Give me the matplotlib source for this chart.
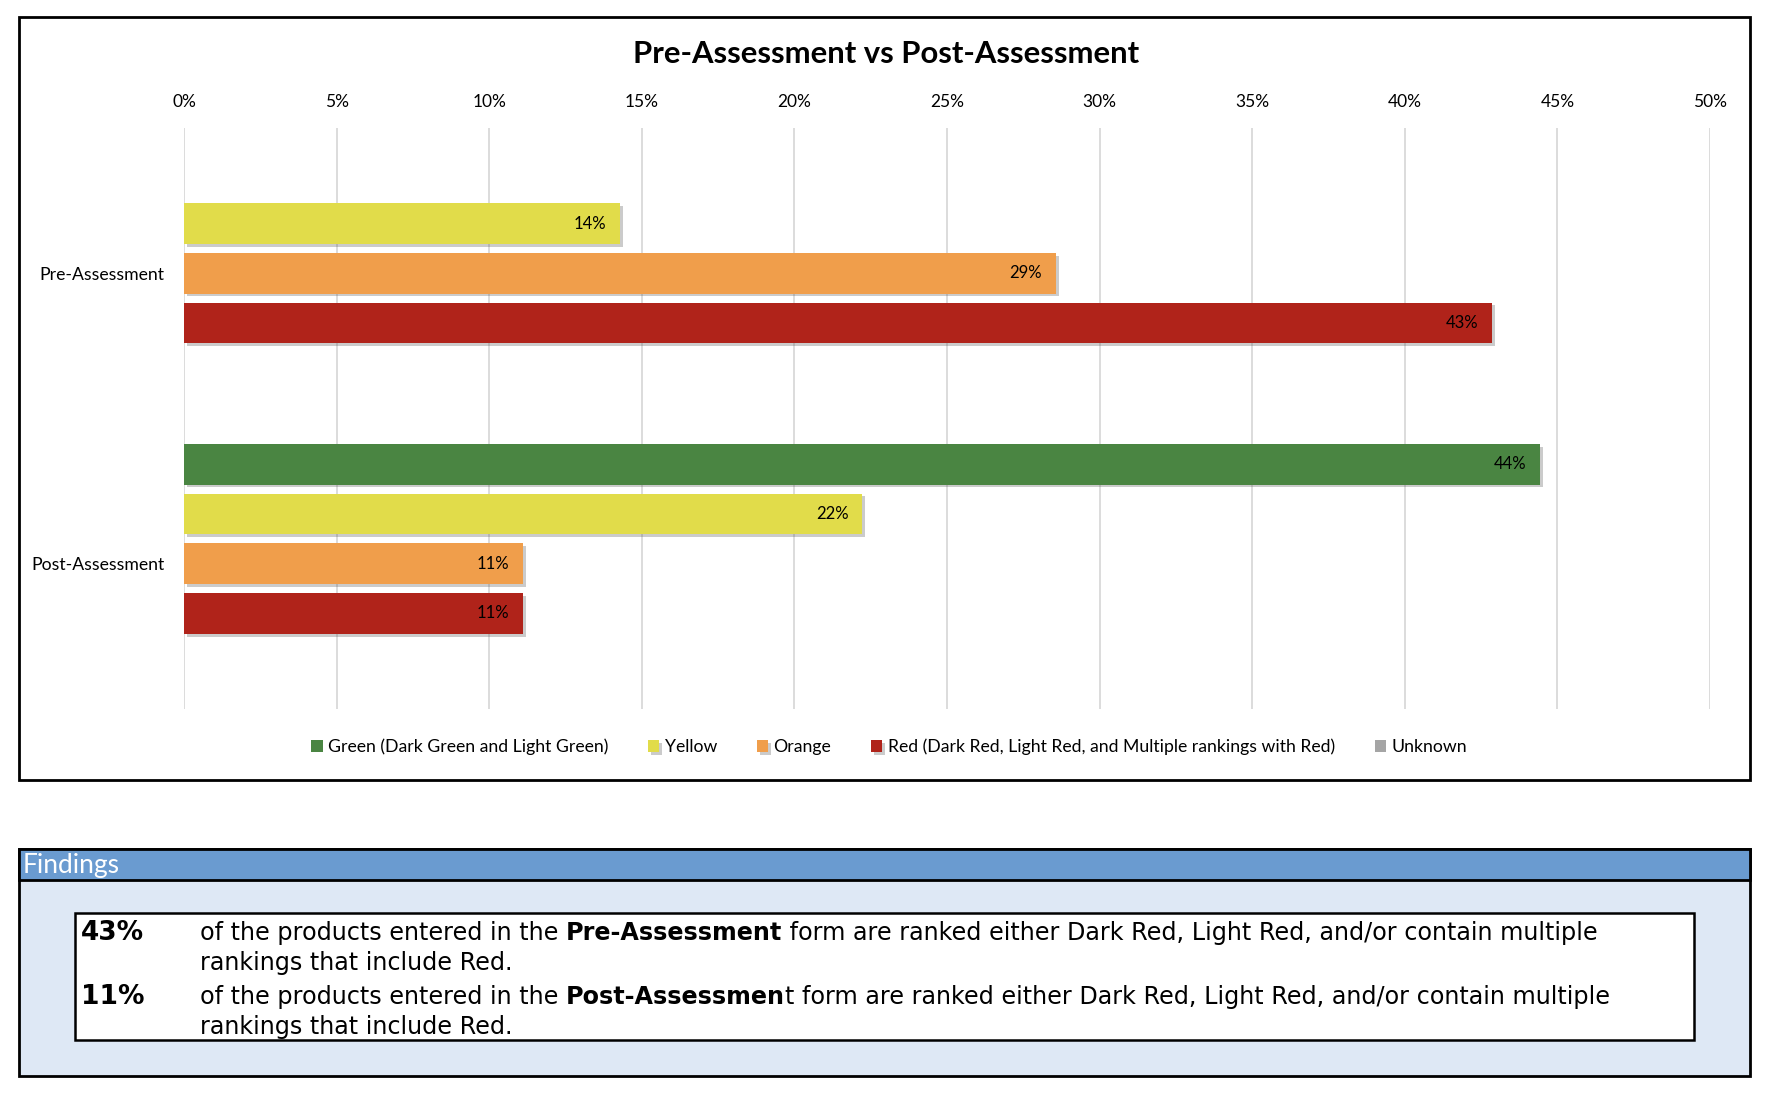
import matplotlib
matplotlib.use("Agg")
import matplotlib.pyplot as plt
import matplotlib.patheffects as pe
from matplotlib.patches import Rectangle
import numpy as np

categories = ["Pre-Assessment", "Post-Assessment"]
series_names = ["Green (Dark Green and Light Green)", "Yellow", "Orange",
                "Red (Dark Red, Light Red, and Multiple rankings with Red)", "Unknown"]
series_colors = ["#4A8542", "#E1DC4A", "#F09E4B", "#B0231A", "#A5A5A5"]
# percentages per series: [Pre, Post]
green = [0.0, 44.44]
yellow = [14.29, 22.22]
orange = [28.57, 11.11]
red = [42.86, 11.11]
unknown = [0.0, 0.0]
series_values = [green, yellow, orange, red, unknown]
xticks = [0, 5, 10, 15, 20, 25, 30, 35, 40, 45, 50]

title = "Pre-Assessment vs Post-Assessment"
findings_header = "Findings"

W, H = 1774, 1098
fig = plt.figure(figsize=(W / 100, H / 100), dpi=100)
CH = "Lato"
BODY = "DejaVu Sans"

def fx(px):
    return px / W

def fy(py):
    return 1 - py / H

# Chart outer box
fig.patches.append(Rectangle((fx(19), fy(780)), fx(1750) - fx(19), fy(17) - fy(780),
                             transform=fig.transFigure, fill=False, edgecolor="black",
                             linewidth=2.0, zorder=0))

ax = fig.add_axes([fx(184), fy(709), fx(1710) - fx(184), fy(128) - fy(709)])
slot = 44 / 257
bh = 36 / 257
ypos = np.arange(len(categories))
shadow = [pe.SimplePatchShadow(offset=(2, -2), alpha=0.3, shadow_rgbFace="#555555"), pe.Normal()]
for j, (name, vals, col) in enumerate(zip(series_names, series_values, series_colors)):
    yy = ypos + (j - 2) * slot
    bars = ax.barh(yy, vals, height=bh, color=col, label=name, zorder=3)
    for b, v in zip(bars, vals):
        if v > 0:
            b.set_path_effects(shadow)
            ax.text(v - 0.45, b.get_y() + b.get_height() / 2, f"{v:.0f}%",
                    ha="right", va="center", fontsize=12, family=CH, color="black", zorder=4)

ax.set_xlim(0, 50)
ax.set_ylim(1.5, -0.5)
ax.set_xticks(xticks)
ax.set_xticklabels([f"{t}%" for t in xticks], family=CH, fontsize=12.5)
ax.xaxis.tick_top()
ax.tick_params(axis="x", length=0, pad=13)
ax.set_yticks(ypos)
ax.set_yticklabels(categories, family=CH, fontsize=12.7)
ax.tick_params(axis="y", length=0, pad=14)
ax.grid(axis="x", color="#D9D9D9", linewidth=1.3, zorder=0)
for s in ax.spines.values():
    s.set_visible(False)

fig.text(fx(886), fy(54), title, ha="center", va="center", fontsize=22.3, fontweight="bold", family=CH)

handles, labels = ax.get_legend_handles_labels()
fig.legend(handles, labels, loc="center", bbox_to_anchor=(fx(889), fy(747)), ncol=5,
           frameon=False, prop={"family": CH, "size": 12.7}, handlelength=0.65,
           handleheight=0.65, handletextpad=0.3, columnspacing=2.25)

# Findings box
fig.patches.append(Rectangle((fx(19), fy(1076)), fx(1750) - fx(19), fy(849) - fy(1076),
                             transform=fig.transFigure, facecolor="#DEE8F5", edgecolor="black",
                             linewidth=2.0, zorder=0))
fig.patches.append(Rectangle((fx(19), fy(880)), fx(1750) - fx(19), fy(849) - fy(880),
                             transform=fig.transFigure, facecolor="#6A9BD0", edgecolor="black",
                             linewidth=2.0, zorder=1))
fig.text(fx(23), fy(866), findings_header, ha="left", va="center", color="white",
         fontsize=19, family=CH)
fig.patches.append(Rectangle((fx(75), fy(1040)), fx(1694) - fx(75), fy(913) - fy(1040),
                             transform=fig.transFigure, facecolor="white", edgecolor="black",
                             linewidth=1.8, zorder=1))

fs = 17.2
rows = [
    (f"{red[0]:.0f}%", 933, ["of the products entered in the ", "Pre-Assessment",
                              " form are ranked either Dark Red, Light Red, and/or contain multiple"]),
    (f"{red[1]:.0f}%", 997, ["of the products entered in the ", "Post-Assessmen",
                              "t form are ranked either Dark Red, Light Red, and/or contain multiple"]),
]
fig.canvas.draw()
renderer = fig.canvas.get_renderer()
for pct, yline, parts in rows:
    fig.text(fx(81), fy(yline), pct, ha="left", va="center", fontsize=19,
             fontweight="bold", family=BODY, zorder=3)
    x = 200
    for k, part in enumerate(parts):
        t = fig.text(fx(x), fy(yline), part, ha="left", va="center", fontsize=fs,
                     fontweight="bold" if k == 1 else "normal", family=BODY, zorder=3)
        bb = t.get_window_extent(renderer=renderer)
        x += bb.width
    fig.text(fx(200), fy(yline + 30), "rankings that include Red.", ha="left", va="center",
             fontsize=fs, family=BODY, zorder=3)

fig.savefig("out.png", dpi=100)
